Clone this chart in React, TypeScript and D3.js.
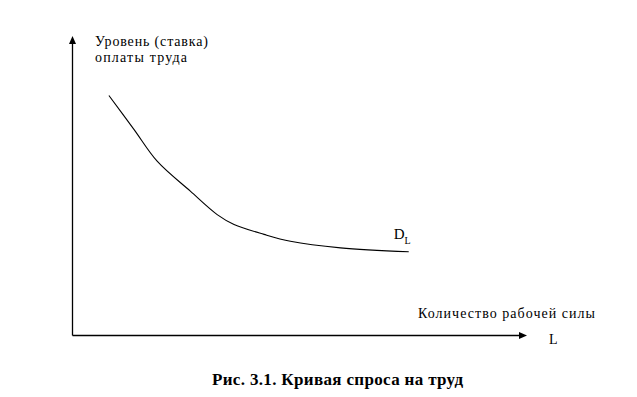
import React from "react";
import * as d3 from "d3";

// demand curve D_L (abstract units 0..10)
const laborQty = [0.8, 1.35, 1.86, 2.59, 3.18, 3.55, 4.21, 4.79, 5.89, 7.39];
const wageLevel = [8.0, 6.87, 5.81, 4.81, 4.03, 3.7, 3.37, 3.14, 2.92, 2.79];

const yLabelLines = ["Уровень (ставка)", "оплаты труда"];
const xLabel = "Количество рабочей силы";
const xAxisName = "L";
const curveName = "D";
const curveSub = "L";
const caption = "Рис. 3.1. Кривая спроса на труд";

const W = 637;
const H = 397;
const font = "Liberation Serif, Times New Roman, serif";

export default function App() {
  const x = d3.scaleLinear().domain([0, 10]).range([72.5, 527.5]);
  const y = d3.scaleLinear().domain([0, 10]).range([335.5, 35.5]);

  const pts = laborQty.map((q, i) => [q, wageLevel[i]] as [number, number]);
  const line = d3
    .line<[number, number]>()
    .x(d => x(d[0]))
    .y(d => y(d[1]))
    .curve(d3.curveCatmullRom.alpha(0.5));

  const x0 = x(0);
  const y0 = y(0);
  const yTop = 36;
  const xEnd = 527;
  const last = pts[pts.length - 1];

  return (
    <svg
      width={W}
      height={H}
      style={{ position: "absolute", left: 0, top: 0, background: "#fff", fontFamily: font }}
    >
      <rect width={W} height={H} fill="#fff" />

      {/* axes */}
      <line x1={x0} y1={y0} x2={x0} y2={yTop + 6} stroke="#000" strokeWidth={1.3} />
      <path d={`M${x0},${yTop} L${x0 - 3.5},${yTop + 8} L${x0 + 3.5},${yTop + 8} Z`} fill="#000" />
      <line x1={x0} y1={y0} x2={xEnd - 6} y2={y0} stroke="#000" strokeWidth={1.3} />
      <path d={`M${xEnd},${y0} L${xEnd - 8},${y0 - 3.5} L${xEnd - 8},${y0 + 3.5} Z`} fill="#000" />

      {/* curve */}
      <path d={line(pts) ?? ""} fill="none" stroke="#000" strokeWidth={1.1} />

      {/* labels */}
      <text x={95} y={46} fontSize={14} textLength={113} lengthAdjust="spacing">
        {yLabelLines[0]}
      </text>
      <text x={95} y={62} fontSize={14} textLength={92} lengthAdjust="spacing">
        {yLabelLines[1]}
      </text>

      <text x={418} y={318} fontSize={14} textLength={177} lengthAdjust="spacing">
        {xLabel}
      </text>
      <text x={549} y={344} fontSize={14}>
        {xAxisName}
      </text>

      <text x={x(last[0]) - 15} y={y(last[1]) - 13} fontSize={15}>
        {curveName}
        <tspan fontSize={10} dy={5}>
          {curveSub}
        </tspan>
      </text>

      <text x={212} y={385} fontSize={17} fontWeight="bold" textLength={251} lengthAdjust="spacing">
        {caption}
      </text>
    </svg>
  );
}
